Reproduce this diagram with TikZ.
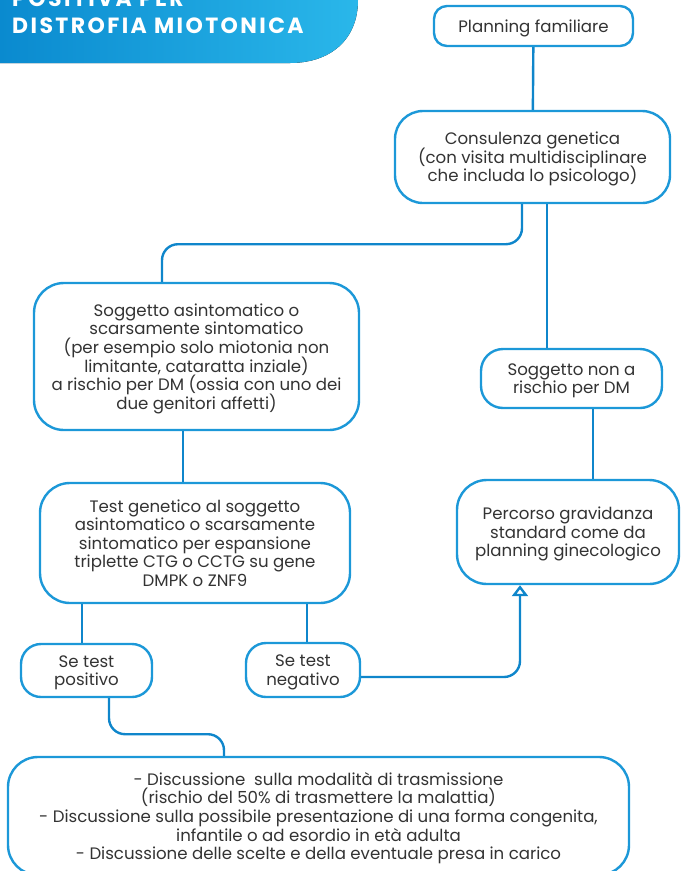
\documentclass[tikz,border=0pt]{standalone}
\usepackage{fontspec}
\setmainfont{Poppins}
\usetikzlibrary{positioning,arrows.meta,calc}
\definecolor{boxblue}{HTML}{1C98D8}
\definecolor{linkblue}{HTML}{0F86CB}
\definecolor{bandark}{HTML}{0A8ACF}
\definecolor{banlight}{HTML}{2AB7EA}
\definecolor{txtgray}{HTML}{333333}
\newcommand*{\boxfont}{\fontsize{16.6}{18.6}\selectfont\setlength{\lineskiplimit}{-50pt}}
\tikzset{%
  box/.style={draw=boxblue,line width=2.4pt,fill=white,align=center,text=txtgray,inner sep=0pt,text depth=-3pt,font=\boxfont},
  link/.style={draw=linkblue,line width=2.4pt,rounded corners=16pt},
  title/.style={anchor=base west,text=white,inner sep=0pt,font=\bfseries\fontsize{22}{24}\selectfont\addfontfeature{LetterSpace=11}},
}

\begin{document}
\begin{tikzpicture}[x=1pt,y=-1pt]
  \useasboundingbox (0,0) rectangle (681,871);
  % banner
  \fill[left color=bandark,right color=banlight] (0,0) -- (358,0) .. controls (358,40) and (330,63) .. (290,63) -- (0,63) -- cycle;
  \node[title] (titA) at (12,6) {POSITIVA PER};
  \node[title] (titB) at (12,33) {DISTROFIA MIOTONICA};
  % boxes
  \node[box,minimum width=199,minimum height=40,rounded corners=13] (plan) at (533.5,26) {Planning familiare};
  \node[box,minimum width=275,minimum height=92,rounded corners=28] (cons) at (532.5,157) {Consulenza genetica\\(con visita multidisciplinare\\che includa lo psicologo)};
  \node[box,minimum width=325,minimum height=147,rounded corners=30] (asint) at (196.5,356.5) {Soggetto asintomatico o\\scarsamente sintomatico\\(per esempio solo miotonia non\\limitante, cataratta inziale)\\a rischio per DM (ossia con uno dei\\due genitori affetti)};
  \node[box,minimum width=181,minimum height=59,rounded corners=22] (nonrisk) at (571.5,378.5) {Soggetto non a\\rischio per DM};
  \node[box,minimum width=222,minimum height=104,rounded corners=30] (perc) at (568,532) {Percorso gravidanza\\standard come da\\planning ginecologico};
  \node[box,minimum width=310,minimum height=120,rounded corners=30] (testgen) at (195,543) {Test genetico al soggetto\\asintomatico o scarsamente\\sintomatico per espansione\\triplette CTG o CCTG su gene\\DMPK o ZNF9};
  \node[box,minimum width=131,minimum height=53,rounded corners=20] (pos) at (86.5,670.5) {Se test\\positivo};
  \node[box,minimum width=114,minimum height=54,rounded corners=20] (neg) at (303,670) {Se test\\negativo};
  \node[box,minimum width=621,minimum height=118,rounded corners=30] (disc) at (318.5,816) {- Discussione \ sulla modalità di trasmissione\\(rischio del 50\% di trasmettere la malattia)\\- Discussione sulla possibile presentazione di una forma congenita,\\infantile o ad esordio in età adulta\\- Discussione delle scelte e della eventuale presa in carico};
  % links
  \draw[link] (plan) -- (cons);
  \draw[link] ([xshift=-10.5]cons.south) -- ++(0,40) -| ([xshift=-34.5]asint.north);
  \draw[link] ([xshift=14.5]cons.south) -- ([xshift=14.5]cons.south |- nonrisk.north);
  \draw[link] ([xshift=21.5]nonrisk.south) -- ([xshift=21.5]nonrisk.south |- perc.north);
  \draw[link] ([xshift=-13.5]asint.south) -- ([xshift=-13.5]asint.south |- testgen.north);
  \draw[link] (pos.north -| 82,0) -- (82,0 |- testgen.south);
  \draw[link] ([xshift=4]neg.north) -- ([xshift=4]neg.north |- testgen.south);
  \draw[link,-{Triangle[open,width=16pt,length=11pt,fill=white]}] ([yshift=-7]neg.east) -| ([xshift=-48]perc.south);
  \draw[link] ([xshift=22.5]pos.south) -- ++(0,36) -| ([xshift=-94.5]disc.north);
\end{tikzpicture}
\end{document}
